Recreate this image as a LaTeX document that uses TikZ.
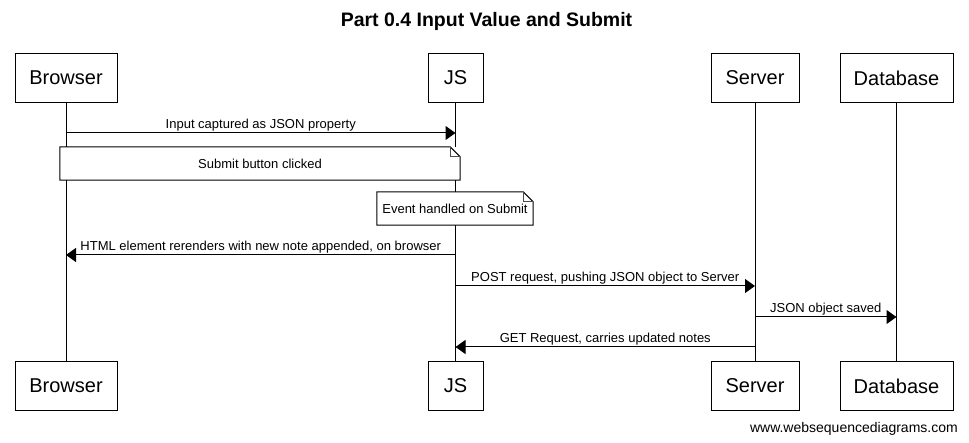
\documentclass[tikz,border=0pt]{standalone}
\usepackage{fontspec}
\setmainfont{Liberation Sans}
\usetikzlibrary{arrows.meta,calc}
\begin{document}
\begin{tikzpicture}[x=1pt,y=-1pt,
  actor/.style={draw,line width=1pt,fill=white,minimum height=49pt,inner sep=0pt,font=\fontsize{20}{24}\selectfont},
  lifeline/.style={line width=1pt},
  msg/.style={line width=1pt,-{Triangle[length=10pt,width=14pt]}},
  lbl/.style={font=\fontsize{13}{15}\selectfont,above,inner sep=1pt},
  note/.style={fill=white,minimum height=33pt,inner sep=0pt,font=\fontsize{13}{15}\selectfont},
  notebd/.style={line width=1pt,line join=miter},
  foldln/.style={line width=0.8pt,draw=black!70}
]
\useasboundingbox (0,0) rectangle (969,443);
% title
\node[font=\bfseries\fontsize{19.5}{23}\selectfont] (title) at (486.5,21.5) {Part 0.4 Input Value and Submit};
% participants
\node[actor,minimum width=102pt] (b1) at (66,78) {Browser};
\node[actor,minimum width=55pt] (j1) at (455.5,78) {JS};
\node[actor,minimum width=88pt] (s1) at (755,78) {Server};
\node[actor,minimum width=113pt] (d1) at (896.5,78) {Database};
\node[actor,minimum width=102pt] (b2) at (66,386) {Browser};
\node[actor,minimum width=55pt] (j2) at (455.5,386) {JS};
\node[actor,minimum width=88pt] (s2) at (755,386) {Server};
\node[actor,minimum width=113pt] (d2) at (896.5,386) {Database};
% lifelines
\draw[lifeline] (b1.south) -- (b2.north);
\draw[lifeline] (j1.south) -- (j2.north);
\draw[lifeline] (s1.south) -- (s2.north);
\draw[lifeline] (d1.south) -- (d2.north);
% rows
\coordinate (r1) at (0,133);
\coordinate (r4) at (0,255);
\coordinate (r5) at (0,286);
\coordinate (r6) at (0,317);
\coordinate (r7) at (0,347);
% messages
\draw[msg] (b1 |- r1) -- node[lbl]{Input captured as JSON property} (j1 |- r1);
\draw[msg] (j1 |- r4) -- node[lbl]{HTML element rerenders with new note appended, on browser} (b1 |- r4);
\draw[msg] (j1 |- r5) -- node[lbl]{POST request, pushing JSON object to Server} (s1 |- r5);
\draw[msg] (s1 |- r6) -- node[lbl]{JSON object saved} (d1 |- r6);
\draw[msg] (s1 |- r7) -- node[lbl]{GET Request, carries updated notes} (j1 |- r7);
% notes
\node[note,minimum width=400pt] (n1) at (260,163.5) {Submit button clicked};
\draw[notebd] (n1.south west) -- (n1.north west) -- ([xshift=-10pt]n1.north east) -- ([yshift=-10pt]n1.north east) -- (n1.south east) -- cycle;
\draw[foldln] ([xshift=-10pt]n1.north east) -- ++(0,10) -- ([yshift=-10pt]n1.north east);
\node[note,minimum width=156pt] (n2) at (455,208.5) {Event handled on Submit};
\draw[notebd] (n2.south west) -- (n2.north west) -- ([xshift=-10pt]n2.north east) -- ([yshift=-10pt]n2.north east) -- (n2.south east) -- cycle;
\draw[foldln] ([xshift=-10pt]n2.north east) -- ++(0,10) -- ([yshift=-10pt]n2.north east);
% footer
\node[font=\fontsize{14}{17}\selectfont,anchor=east,inner sep=0pt] (foot) at (958,429) {www.websequencediagrams.com};
\end{tikzpicture}
\end{document}
